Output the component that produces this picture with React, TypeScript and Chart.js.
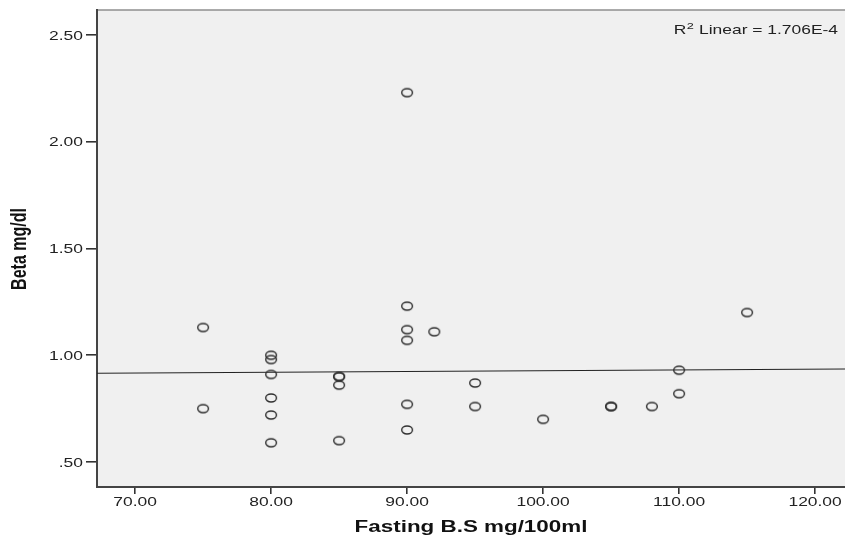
import React, { useEffect, useRef } from "react";
import { Chart, registerables } from "chart.js";

Chart.register(...registerables);

// Fasting blood sugar (mg/100ml)
const fastingBS: number[] = [
  75, 75,
  80, 80, 80, 80, 80, 80,
  85, 85, 85, 85,
  90, 90, 90, 90, 90, 90,
  92,
  95, 95,
  100,
  105, 105,
  108,
  110, 110,
  115,
];

// Beta (mg/dl)
const beta: number[] = [
  1.13, 0.75,
  1.0, 0.98, 0.91, 0.8, 0.72, 0.59,
  0.9, 0.9, 0.86, 0.6,
  2.23, 1.23, 1.12, 1.07, 0.77, 0.65,
  1.11,
  0.87, 0.76,
  0.7,
  0.76, 0.76,
  0.76,
  0.93, 0.82,
  1.2,
];

const xTicks: number[] = [70, 80, 90, 100, 110, 120];
const yTicks: number[] = [0.5, 1.0, 1.5, 2.0, 2.5];
const xTickLabels: string[] = ["70.00", "80.00", "90.00", "100.00", "110.00", "120.00"];
const yTickLabels: string[] = [".50", "1.00", "1.50", "2.00", "2.50"];

const X_MIN = 67.2;
const X_MAX = 122.2;
const Y_MIN = 0.383;
const Y_MAX = 2.617;

const xTitle = "Fasting B.S mg/100ml";
const yTitle = "Beta mg/dl";
const r2Label = " Linear = 1.706E-4";

function fitLine(xs: number[], ys: number[]) {
  const n = xs.length;
  const mx = xs.reduce((a, b) => a + b, 0) / n;
  const my = ys.reduce((a, b) => a + b, 0) / n;
  let sxy = 0;
  let sxx = 0;
  for (let i = 0; i < n; i++) {
    sxy += (xs[i] - mx) * (ys[i] - my);
    sxx += (xs[i] - mx) * (xs[i] - mx);
  }
  const slope = sxy / sxx;
  return { slope, intercept: my - slope * mx };
}

const FONT = "'Liberation Sans', Arial, sans-serif";
const STRETCH = 1.34;

function makeMarker(): HTMLCanvasElement {
  const c = document.createElement("canvas");
  c.width = 16;
  c.height = 12;
  const g = c.getContext("2d")!;
  g.save();
  g.translate(8, 6);
  g.scale(STRETCH, 1);
  g.beginPath();
  g.arc(0, 0, 4.0, 0, Math.PI * 2);
  g.restore();
  g.strokeStyle = "#2e2e2e";
  g.lineWidth = 1.4;
  g.stroke();
  return c;
}

export default function App() {
  const ref = useRef<HTMLCanvasElement | null>(null);

  useEffect(() => {
    const canvas = ref.current;
    if (!canvas) return;
    const { slope, intercept } = fitLine(fastingBS, beta);
    const points = fastingBS.map((x, i) => ({ x, y: beta[i] }));
    const linePts = [
      { x: X_MIN, y: intercept + slope * X_MIN },
      { x: X_MAX, y: intercept + slope * X_MAX },
    ];
    const marker = makeMarker();

    const decor = {
      id: "decor",
      beforeDraw(chart: any) {
        const { ctx, chartArea } = chart;
        ctx.save();
        ctx.fillStyle = "#ffffff";
        ctx.fillRect(0, 0, chart.width, chart.height);
        ctx.fillStyle = "#f0f0f0";
        ctx.fillRect(chartArea.left, chartArea.top, chartArea.right - chartArea.left, chartArea.bottom - chartArea.top);
        ctx.strokeStyle = "#8f8f8f";
        ctx.lineWidth = 1.5;
        ctx.beginPath();
        ctx.moveTo(chartArea.left, chartArea.top);
        ctx.lineTo(chartArea.right, chartArea.top);
        ctx.stroke();
        ctx.restore();
      },
      afterDraw(chart: any) {
        const { ctx } = chart;
        const xs = chart.scales.x;
        const ys = chart.scales.y;
        ctx.save();
        ctx.fillStyle = "#222";
        ctx.font = `13px ${FONT}`;
        // x tick labels
        ctx.textAlign = "center";
        ctx.textBaseline = "alphabetic";
        xTicks.forEach((v, i) => {
          ctx.save();
          ctx.translate(xs.getPixelForValue(v), 506);
          ctx.scale(STRETCH, 1);
          ctx.fillText(xTickLabels[i], 0, 0);
          ctx.restore();
        });
        // y tick labels
        ctx.textAlign = "right";
        ctx.textBaseline = "middle";
        yTicks.forEach((v, i) => {
          ctx.save();
          ctx.translate(83, ys.getPixelForValue(v) + 1);
          ctx.scale(STRETCH, 1);
          ctx.fillText(yTickLabels[i], 0, 0);
          ctx.restore();
        });
        // x title
        ctx.fillStyle = "#111";
        ctx.font = `bold 16px ${FONT}`;
        ctx.textAlign = "center";
        ctx.textBaseline = "alphabetic";
        ctx.save();
        ctx.translate(471, 532);
        ctx.scale(1.4, 1);
        ctx.fillText(xTitle, 0, 0);
        ctx.restore();
        // y title
        ctx.save();
        ctx.translate(26, 249);
        ctx.rotate(-Math.PI / 2);
        ctx.scale(1, STRETCH);
        ctx.font = `bold 16px ${FONT}`;
        ctx.textAlign = "center";
        ctx.textBaseline = "alphabetic";
        ctx.fillText(yTitle, 0, 0);
        ctx.restore();
        // R2 annotation
        ctx.fillStyle = "#222";
        ctx.textAlign = "left";
        ctx.textBaseline = "alphabetic";
        ctx.font = `13px ${FONT}`;
        const wR = ctx.measureText("R").width;
        ctx.font = `9.5px ${FONT}`;
        const w2 = ctx.measureText("2").width;
        ctx.font = `13px ${FONT}`;
        const wRest = ctx.measureText(r2Label).width;
        const total = wR + w2 + 0.5 + wRest;
        ctx.save();
        ctx.translate(838 - total * STRETCH, 34);
        ctx.scale(STRETCH, 1);
        ctx.fillText("R", 0, 0);
        ctx.font = `9.5px ${FONT}`;
        ctx.fillText("2", wR + 0.3, -5.5);
        ctx.font = `13px ${FONT}`;
        ctx.fillText(r2Label, wR + w2 + 0.5, 0);
        ctx.restore();
        ctx.restore();
      },
    };

    const chart = new Chart(canvas, {
      type: "scatter",
      data: {
        datasets: [
          {
            type: "scatter",
            data: points,
            pointStyle: marker,
            pointRadius: 6,
            order: 1,
          },
          {
            type: "line",
            data: linePts,
            borderColor: "#222",
            borderWidth: 1.1,
            pointRadius: 0,
            fill: false,
            order: 2,
          } as any,
        ],
      },
      options: {
        responsive: false,
        animation: false,
        layout: { autoPadding: false, padding: { top: 10, left: 0, right: 0, bottom: 0 } },
        plugins: {
          legend: { display: false },
          tooltip: { enabled: false },
        },
        scales: {
          x: {
            type: "linear",
            min: X_MIN,
            max: X_MAX,
            afterBuildTicks(scale: any) {
              scale.ticks = xTicks.map((v) => ({ value: v }));
            },
            afterFit(scale: any) {
              scale.height = 55;
              scale.paddingLeft = 0;
              scale.paddingRight = 0;
            },
            ticks: { display: false },
            grid: {
              display: true,
              drawOnChartArea: false,
              drawTicks: true,
              tickLength: 7,
              color: "#333",
              lineWidth: 1.6,
            },
            border: { display: true, color: "#444", width: 2 },
          },
          y: {
            type: "linear",
            min: Y_MIN,
            max: Y_MAX,
            afterBuildTicks(scale: any) {
              scale.ticks = yTicks.map((v) => ({ value: v }));
            },
            afterFit(scale: any) {
              scale.width = 97;
              scale.paddingTop = 0;
              scale.paddingBottom = 0;
            },
            ticks: { display: false },
            grid: {
              display: true,
              drawOnChartArea: false,
              drawTicks: true,
              tickLength: 11,
              color: "#333",
              lineWidth: 1.6,
            },
            border: { display: true, color: "#444", width: 2 },
          },
        },
      },
      plugins: [decor],
    } as any);

    return () => chart.destroy();
  }, []);

  return (
    <div style={{ position: "fixed", left: 0, top: 0, width: 845, height: 542 }}>
      <canvas ref={ref} width={845} height={542} style={{ width: 845, height: 542, display: "block" }} />
    </div>
  );
}
